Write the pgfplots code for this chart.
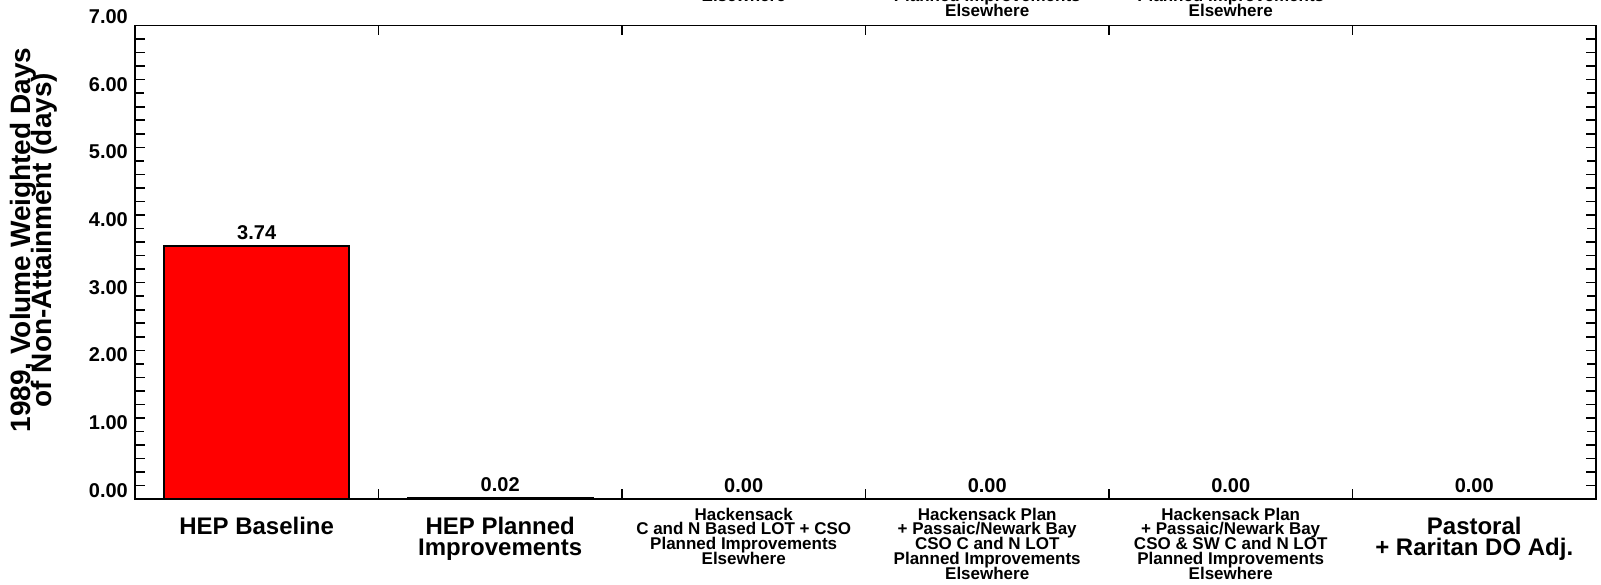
\documentclass[border=0pt]{standalone}
\usepackage{pgfplots}
\pgfplotsset{compat=1.18}
\usepackage{fontspec}
\setmainfont{Liberation Sans}
\newcommand{\catbig}[1]{\raisebox{-7pt}{\vtop{\fontsize{12}{10.5}\selectfont\bfseries\lineskiplimit=-100pt\relax\let\\\cr\halign{\hfil##\hfil\cr#1\crcr}}}}
\newcommand{\catsmall}[1]{\vtop{\fontsize{8.5}{7.4}\selectfont\bfseries\lineskiplimit=-100pt\relax\let\\\cr\halign{\hfil##\hfil\cr#1\crcr}}}
\pgfplotsset{
  catlabels/.style={
    xtick={0,1,2,3,4,5},
    xticklabels={
      {\catbig{HEP Baseline}},
      {\catbig{HEP Planned\\Improvements}},
      {\catsmall{Hackensack\\C and N Based LOT + CSO\\Planned Improvements\\Elsewhere}},
      {\catsmall{Hackensack Plan\\+ Passaic/Newark Bay\\CSO C and N LOT\\Planned Improvements\\Elsewhere}},
      {\catsmall{Hackensack Plan\\+ Passaic/Newark Bay\\CSO \& SW C and N LOT\\Planned Improvements\\Elsewhere}},
      {\catbig{Pastoral\\+ Raritan DO Adj.}}
    },
    xticklabel style={anchor=base, inner sep=0pt, yshift=-10.5pt},
  }
}
\begin{document}
\begin{tikzpicture}
\begin{axis}[
  at={(0,0)}, anchor=south west,
  scale only axis, width=731pt, height=237pt,
  xmin=-0.5, xmax=5.5, ymin=0, ymax=7,
  ybar, bar width=92.5pt,
  catlabels,
  major x tick style={draw=none},
  minor xtick={0.5,1.5,2.5,3.5,4.5},
  ytick={0,1,2,3,4,5,6,7},
  minor y tick num=4,
  tick align=inside,
  major tick length=4.5pt, minor tick length=5pt,
  axis line style={line width=0.9pt, black},
  every tick/.append style={black, line width=0.8pt},
  yticklabel style={font=\fontsize{10}{12}\selectfont\bfseries, yshift=4.5pt},
  /pgf/number format/.cd, fixed, fixed zerofill, precision=2, assume math mode=true,
  /pgfplots/.cd,
  ylabel={1989, Volume Weighted Days\\[-3.6pt]of Non-Attainment (days)},
  ylabel style={at={(axis description cs:-0.0690,0.547)}, anchor=center, align=center,
    font=\fontsize{14}{11.2}\selectfont\bfseries},
  nodes near coords={\pgfmathprintnumber[fixed,fixed zerofill,precision=2,assume math mode=true]{\pgfplotspointmeta}},
  nodes near coords style={font=\fontsize{10}{12}\selectfont\bfseries, anchor=south, inner sep=0pt, yshift=2.5pt},
]
\addplot[fill=red, draw=black, line width=1.2pt] coordinates {(0,3.74) (1,0.02) (2,0) (3,0) (4,0) (5,0)};
\end{axis}
% labels of the chart above, mostly outside the page
\begin{axis}[
  at={(0,281.5pt)}, anchor=south west,
  scale only axis, width=731pt, height=237pt,
  xmin=-0.5, xmax=5.5, ymin=0, ymax=7,
  catlabels,
  ytick=\empty,
  axis line style={draw=none},
  major tick length=0pt,
  tick style={draw=none},
]
\end{axis}
\pgfresetboundingbox
\path[use as bounding box] (-67.5pt,-42.75pt) rectangle (733.5pt,249.75pt);
\end{tikzpicture}
\end{document}
